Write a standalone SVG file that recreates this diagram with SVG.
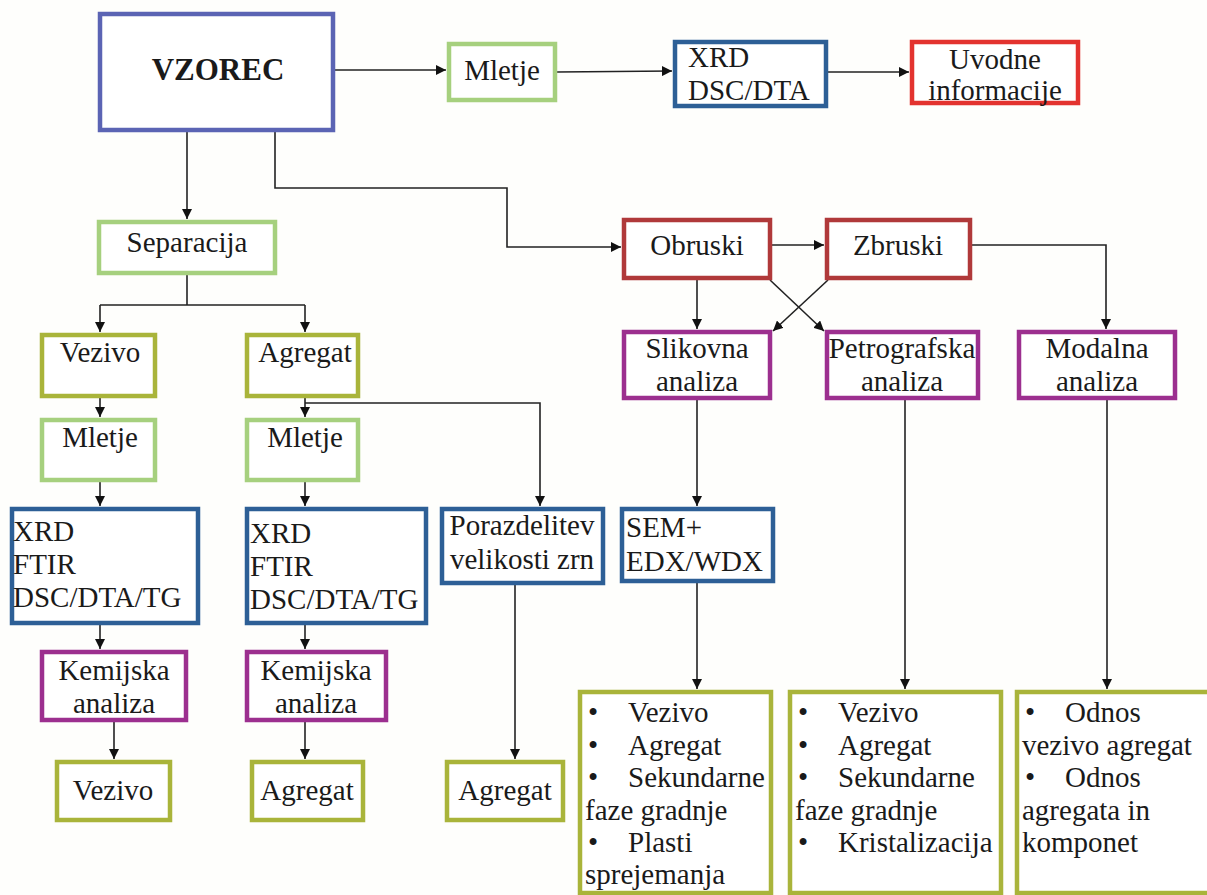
<svg xmlns="http://www.w3.org/2000/svg" width="1207" height="895" viewBox="0 0 1207 895" font-family="'Liberation Serif', 'Times New Roman', serif">
<style>
  .t{font-family:"Liberation Serif","Times New Roman",serif;font-size:29px;fill:#1a1a1a}
  .c{text-anchor:middle}
  .b{fill:#fff;stroke-width:4.5}
  .blue{stroke:#2d5f96}.lg{stroke:#a6d07e}.red{stroke:#e3332f}.dred{stroke:#b0393a}
  .pur{stroke:#9c2f8f}.ol{stroke:#a9b43a}.vz{stroke:#5b64b4}
  .ln{fill:none;stroke:#222;stroke-width:1.6}
</style>
<defs>
  <marker id="ah" viewBox="0 0 10 10" refX="10" refY="5" markerWidth="10" markerHeight="10" markerUnits="userSpaceOnUse" orient="auto">
    <path d="M0,0 L10,5 L0,10 z" fill="#111"/>
  </marker>
</defs>
<rect width="1207" height="895" fill="#fefefc"/>

<g id="connectors">
  <path class="ln" d="M335,70 H446" marker-end="url(#ah)"/>
  <path class="ln" d="M557,72 L672,71" marker-end="url(#ah)"/>
  <path class="ln" d="M828,72 H909" marker-end="url(#ah)"/>
  <path class="ln" d="M187,132 V219" marker-end="url(#ah)"/>
  <path class="ln" d="M275,132 V188 H507 V247 H621" marker-end="url(#ah)"/>
  <path class="ln" d="M772,245 H824" marker-end="url(#ah)"/>
  <path class="ln" d="M972,245 H1106 V329" marker-end="url(#ah)"/>
  <path class="ln" d="M697,280 V329" marker-end="url(#ah)"/>
  <path class="ln" d="M770,280 L824,331" marker-end="url(#ah)"/>
  <path class="ln" d="M828,280 L773,331" marker-end="url(#ah)"/>
  <path class="ln" d="M187,275 V305"/>
  <path class="ln" d="M100,305 H305"/>
  <path class="ln" d="M100,305 V332" marker-end="url(#ah)"/>
  <path class="ln" d="M305,305 V332" marker-end="url(#ah)"/>
  <path class="ln" d="M100,398 V417" marker-end="url(#ah)"/>
  <path class="ln" d="M305,398 V417" marker-end="url(#ah)"/>
  <path class="ln" d="M305,403 H540 V506" marker-end="url(#ah)"/>
  <path class="ln" d="M100,482 V506" marker-end="url(#ah)"/>
  <path class="ln" d="M305,482 V506" marker-end="url(#ah)"/>
  <path class="ln" d="M100,625 V649" marker-end="url(#ah)"/>
  <path class="ln" d="M305,625 V649" marker-end="url(#ah)"/>
  <path class="ln" d="M114,722 V759" marker-end="url(#ah)"/>
  <path class="ln" d="M305,722 V759" marker-end="url(#ah)"/>
  <path class="ln" d="M515,585 V759" marker-end="url(#ah)"/>
  <path class="ln" d="M697,400 V506" marker-end="url(#ah)"/>
  <path class="ln" d="M697,583 V689" marker-end="url(#ah)"/>
  <path class="ln" d="M905,400 V689" marker-end="url(#ah)"/>
  <path class="ln" d="M1107,400 V689" marker-end="url(#ah)"/>
</g>

<g id="vzorec"><rect class="b vz" x="100" y="14" width="233" height="116"/>
  <text class="t c" x="218" y="80" style="font-weight:bold;font-size:31px">VZOREC</text></g>
<g id="mletje-top"><rect class="b lg" x="449" y="44" width="106" height="56"/>
  <text class="t c" x="502" y="80">Mletje</text></g>
<g id="xrd-top"><rect class="b blue" x="675" y="42" width="151" height="64"/>
  <text class="t" x="688" y="67">XRD</text><text class="t" x="688" y="100">DSC/DTA</text></g>
<g id="uvodne"><rect class="b red" x="912" y="42" width="166" height="61"/>
  <text class="t c" x="995" y="69">Uvodne</text><text class="t c" x="995" y="100">informacije</text></g>

<g id="separacija"><rect class="b lg" x="99" y="222" width="176" height="51"/>
  <text class="t c" x="187" y="252">Separacija</text></g>
<g id="obruski"><rect class="b dred" x="624" y="220" width="146" height="58"/>
  <text class="t c" x="697" y="255">Obruski</text></g>
<g id="zbruski"><rect class="b dred" x="827" y="220" width="143" height="58"/>
  <text class="t c" x="898" y="255">Zbruski</text></g>

<g id="slikovna"><rect class="b pur" x="624" y="332" width="146" height="66"/>
  <text class="t c" x="697" y="358">Slikovna</text><text class="t c" x="697" y="391">analiza</text></g>
<g id="petrografska"><rect class="b pur" x="827" y="332" width="151" height="66"/>
  <text class="t c" x="902" y="358">Petrografska</text><text class="t c" x="902" y="391">analiza</text></g>
<g id="modalna"><rect class="b pur" x="1019" y="332" width="156" height="66"/>
  <text class="t c" x="1097" y="358">Modalna</text><text class="t c" x="1097" y="391">analiza</text></g>

<g id="vezivo-top"><rect class="b ol" x="42" y="335" width="113" height="61"/>
  <text class="t c" x="100" y="362">Vezivo</text></g>
<g id="agregat-top"><rect class="b ol" x="247" y="335" width="111" height="61"/>
  <text class="t c" x="305" y="362">Agregat</text></g>

<g id="mletje-l"><rect class="b lg" x="42" y="420" width="113" height="60"/>
  <text class="t c" x="100" y="447">Mletje</text></g>
<g id="mletje-m"><rect class="b lg" x="247" y="420" width="111" height="60"/>
  <text class="t c" x="305" y="447">Mletje</text></g>

<g id="xrd-l"><rect class="b blue" x="12" y="509" width="186" height="114"/>
  <text class="t" x="13" y="541">XRD</text><text class="t" x="13" y="574">FTIR</text><text class="t" x="13" y="607">DSC/DTA/TG</text></g>
<g id="xrd-m"><rect class="b blue" x="247" y="509" width="179" height="114"/>
  <text class="t" x="250" y="543">XRD</text><text class="t" x="250" y="576">FTIR</text><text class="t" x="250" y="609">DSC/DTA/TG</text></g>
<g id="porazdelitev"><rect class="b blue" x="442" y="509" width="161" height="74"/>
  <text class="t c" x="522" y="535">Porazdelitev</text><text class="t c" x="522" y="569">velikosti zrn</text></g>
<g id="sem"><rect class="b blue" x="622" y="509" width="151" height="72"/>
  <text class="t" x="626" y="537">SEM+</text><text class="t" x="626" y="571">EDX/WDX</text></g>

<g id="kemijska-l"><rect class="b pur" x="42" y="652" width="144" height="68"/>
  <text class="t c" x="114" y="680">Kemijska</text><text class="t c" x="114" y="713">analiza</text></g>
<g id="kemijska-m"><rect class="b pur" x="247" y="652" width="139" height="68"/>
  <text class="t c" x="316" y="680">Kemijska</text><text class="t c" x="316" y="713">analiza</text></g>

<g id="vezivo-bot"><rect class="b ol" x="57" y="762" width="113" height="58"/>
  <text class="t c" x="113" y="800">Vezivo</text></g>
<g id="agregat-bot"><rect class="b ol" x="252" y="762" width="111" height="58"/>
  <text class="t c" x="307" y="800">Agregat</text></g>
<g id="agregat-bot2"><rect class="b ol" x="447" y="762" width="116" height="58"/>
  <text class="t c" x="505" y="800">Agregat</text></g>

<g id="box-a"><rect class="b ol" x="580" y="692" width="191" height="201"/>
  <text class="t" x="588" y="722">•</text><text class="t" x="628" y="722">Vezivo</text>
  <text class="t" x="588" y="755">•</text><text class="t" x="628" y="755">Agregat</text>
  <text class="t" x="588" y="787">•</text><text class="t" x="628" y="787">Sekundarne</text>
  <text class="t" x="585" y="820">faze gradnje</text>
  <text class="t" x="588" y="852">•</text><text class="t" x="628" y="852">Plasti</text>
  <text class="t" x="585" y="884">sprejemanja</text></g>
<g id="box-b"><rect class="b ol" x="790" y="692" width="211" height="201"/>
  <text class="t" x="798" y="722">•</text><text class="t" x="838" y="722">Vezivo</text>
  <text class="t" x="798" y="755">•</text><text class="t" x="838" y="755">Agregat</text>
  <text class="t" x="798" y="787">•</text><text class="t" x="838" y="787">Sekundarne</text>
  <text class="t" x="795" y="820">faze gradnje</text>
  <text class="t" x="798" y="852">•</text><text class="t" x="838" y="852">Kristalizacija</text></g>
<g id="box-c"><rect class="b ol" x="1017" y="692" width="194" height="201"/>
  <text class="t" x="1025" y="722">•</text><text class="t" x="1065" y="722">Odnos</text>
  <text class="t" x="1022" y="755">vezivo agregat</text>
  <text class="t" x="1025" y="787">•</text><text class="t" x="1065" y="787">Odnos</text>
  <text class="t" x="1022" y="820">agregata in</text>
  <text class="t" x="1022" y="852">komponet</text></g>
</svg>
